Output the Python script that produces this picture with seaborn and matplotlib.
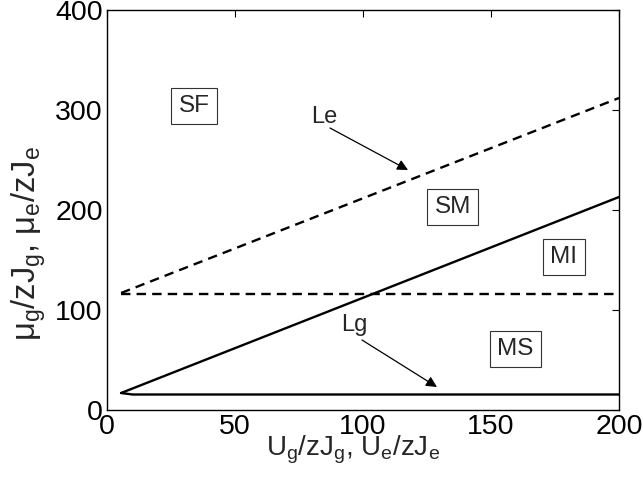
import matplotlib
matplotlib.use("Agg")
import matplotlib.pyplot as plt
import seaborn as sns
import pandas as pd

sns.set_theme(style="white")
plt.rcParams['font.family'] = ['Liberation Sans', 'DejaVu Sans']
plt.rcParams['mathtext.default'] = 'regular'

# Phase boundary data
le_upper_x = [5.5, 200]
le_upper_y = [117, 312]   # dashed diagonal
le_lower_x = [5.5, 200]
le_lower_y = [116, 116]   # dashed horizontal
lg_upper_x = [5.5, 200]
lg_upper_y = [17, 213]    # solid diagonal
lg_lower_x = [5.5, 10, 200]
lg_lower_y = [17, 15.5, 15.5]   # solid horizontal

region_labels = ["SF", "SM", "MI", "MS"]
region_x = [34, 135, 178.5, 159.5]
region_y = [304, 203, 153, 61]

xticks = [0, 50, 100, 150, 200]
yticks = [0, 100, 200, 300, 400]

fig = plt.figure(figsize=(6.43, 4.87), dpi=100)
ax = fig.add_axes([107/643, 77/487, 512/643, 400/487])

def seg(xv, yv):
    return pd.DataFrame({"x": xv, "y": yv})

for xv, yv in [(le_upper_x, le_upper_y), (le_lower_x, le_lower_y)]:
    sns.lineplot(data=seg(xv, yv), x="x", y="y", ax=ax, color="black",
                 linewidth=1.7, sort=False)
    ax.lines[-1].set_dashes([4, 2.6])
for xv, yv in [(lg_upper_x, lg_upper_y), (lg_lower_x, lg_lower_y)]:
    sns.lineplot(data=seg(xv, yv), x="x", y="y", ax=ax, color="black",
                 linewidth=1.7, sort=False)

for lab, xx, yy in zip(region_labels, region_x, region_y):
    ax.text(xx, yy, lab, fontsize=17.5, ha="center", va="center",
            bbox=dict(boxstyle="square,pad=0.3", fc="white", ec="#333333", lw=0.8))

ax.text(85, 293, "Le", fontsize=17, ha="center", va="center")
ax.annotate("", xy=(117.6, 240), xytext=(87.1, 282),
            arrowprops=dict(arrowstyle="-|>", color="black", lw=0.9,
                            mutation_scale=16, shrinkA=0, shrinkB=0))
ax.text(96.5, 85, "Lg", fontsize=17, ha="center", va="center")
ax.annotate("", xy=(128.9, 23), xytext=(99.6, 70),
            arrowprops=dict(arrowstyle="-|>", color="black", lw=0.9,
                            mutation_scale=16, shrinkA=0, shrinkB=0))

ax.set_xlim(0, 200)
ax.set_ylim(0, 400)
ax.set_xticks(xticks)
ax.set_yticks(yticks)
ax.tick_params(direction="in", length=5, width=0.8, top=True, right=True,
               labelsize=20.5, colors="black", pad=3)
for sp in ax.spines.values():
    sp.set_color("black")
    sp.set_linewidth(1.0)
ax.set_xlabel("U$_g$/zJ$_g$, U$_e$/zJ$_e$", fontsize=20, labelpad=-5)
ax.set_ylabel("μ$_g$/zJ$_g$, μ$_e$/zJ$_e$", fontsize=23.5, labelpad=5)
ax.xaxis.label.set_x(0.48)
ax.yaxis.label.set_y(0.415)

fig.savefig("out.png", dpi=100)
